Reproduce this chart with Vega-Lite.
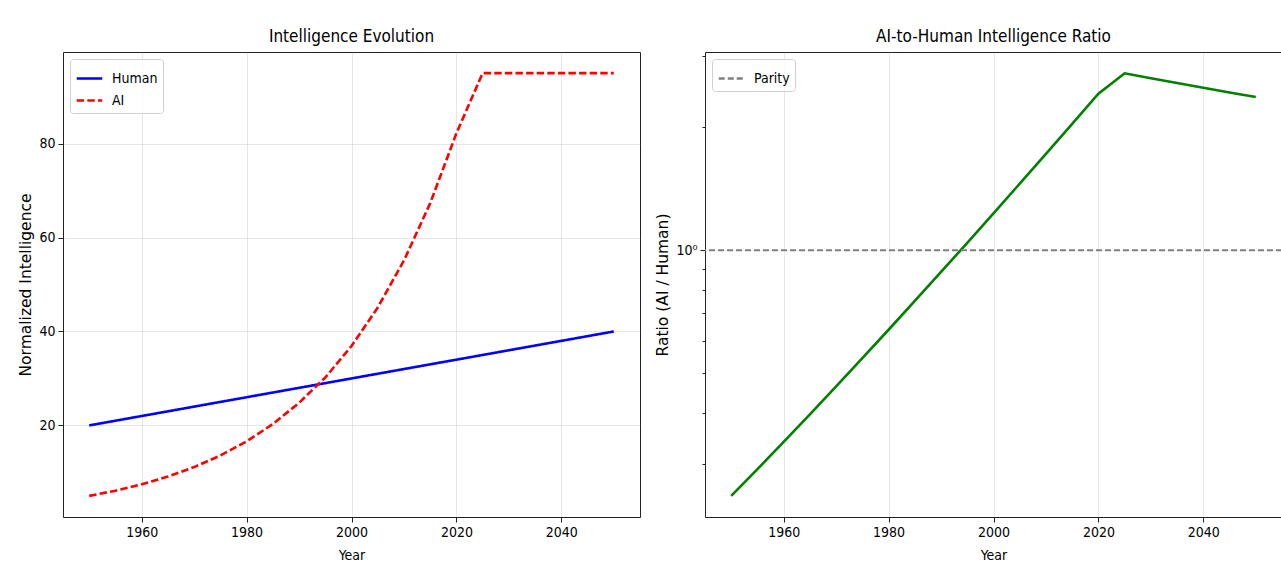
{
  "$schema": "https://vega.github.io/schema/vega-lite/v6.json",
  "background": "white",
  "padding": {"left": 18, "top": 27, "right": 0, "bottom": 0},
  "spacing": 14,
  "datasets": {
    "series": [
      {"year": 1950, "series": "Human", "value": 20},
      {"year": 1955, "series": "Human", "value": 21},
      {"year": 1960, "series": "Human", "value": 22},
      {"year": 1965, "series": "Human", "value": 23},
      {"year": 1970, "series": "Human", "value": 24},
      {"year": 1975, "series": "Human", "value": 25},
      {"year": 1980, "series": "Human", "value": 26},
      {"year": 1985, "series": "Human", "value": 27},
      {"year": 1990, "series": "Human", "value": 28},
      {"year": 1995, "series": "Human", "value": 29},
      {"year": 2000, "series": "Human", "value": 30},
      {"year": 2005, "series": "Human", "value": 31},
      {"year": 2010, "series": "Human", "value": 32},
      {"year": 2015, "series": "Human", "value": 33},
      {"year": 2020, "series": "Human", "value": 34},
      {"year": 2025, "series": "Human", "value": 35},
      {"year": 2030, "series": "Human", "value": 36},
      {"year": 2035, "series": "Human", "value": 37},
      {"year": 2040, "series": "Human", "value": 38},
      {"year": 2045, "series": "Human", "value": 39},
      {"year": 2050, "series": "Human", "value": 40},
      {"year": 1950, "series": "AI", "value": 5.0},
      {"year": 1955, "series": "AI", "value": 6.1},
      {"year": 1960, "series": "AI", "value": 7.46},
      {"year": 1965, "series": "AI", "value": 9.11},
      {"year": 1970, "series": "AI", "value": 11.13},
      {"year": 1975, "series": "AI", "value": 13.6},
      {"year": 1980, "series": "AI", "value": 16.6},
      {"year": 1985, "series": "AI", "value": 20.3},
      {"year": 1990, "series": "AI", "value": 24.8},
      {"year": 1995, "series": "AI", "value": 30.2},
      {"year": 2000, "series": "AI", "value": 36.9},
      {"year": 2005, "series": "AI", "value": 45.1},
      {"year": 2010, "series": "AI", "value": 55.1},
      {"year": 2015, "series": "AI", "value": 67.3},
      {"year": 2020, "series": "AI", "value": 82.2},
      {"year": 2025, "series": "AI", "value": 95},
      {"year": 2030, "series": "AI", "value": 95},
      {"year": 2035, "series": "AI", "value": 95},
      {"year": 2040, "series": "AI", "value": 95},
      {"year": 2045, "series": "AI", "value": 95},
      {"year": 2050, "series": "AI", "value": 95}
    ],
    "ratio": [
      {"year": 1950, "ratio": 0.25},
      {"year": 1955, "ratio": 0.2908},
      {"year": 1960, "ratio": 0.339},
      {"year": 1965, "ratio": 0.3961},
      {"year": 1970, "ratio": 0.4637},
      {"year": 1975, "ratio": 0.5437},
      {"year": 1980, "ratio": 0.6385},
      {"year": 1985, "ratio": 0.751},
      {"year": 1990, "ratio": 0.8845},
      {"year": 1995, "ratio": 1.043},
      {"year": 2000, "ratio": 1.2315},
      {"year": 2005, "ratio": 1.4557},
      {"year": 2010, "ratio": 1.7224},
      {"year": 2015, "ratio": 2.0399},
      {"year": 2020, "ratio": 2.4183},
      {"year": 2025, "ratio": 2.714},
      {"year": 2030, "ratio": 2.639},
      {"year": 2035, "ratio": 2.568},
      {"year": 2040, "ratio": 2.5},
      {"year": 2045, "ratio": 2.436},
      {"year": 2050, "ratio": 2.375}
    ],
    "parity": [{"label": "Parity"}]
  },
  "hconcat": [
    {
      "width": 577,
      "height": 465,
      "title": {"text": "Intelligence Evolution"},
      "data": {"name": "series"},
      "mark": {"type": "line", "strokeWidth": 2.6},
      "encoding": {
        "x": {"field": "year", "type": "quantitative", "scale": {"domain": [1945, 2055], "nice": false, "zero": false}, "axis": {"title": "Year", "values": [1960, 1980, 2000, 2020, 2040], "format": "d"}},
        "y": {"field": "value", "type": "quantitative", "scale": {"domain": [0.5, 99.5], "nice": false, "zero": false}, "axis": {"title": "Normalized Intelligence", "values": [20, 40, 60, 80]}},
        "color": {"field": "series", "type": "nominal", "scale": {"domain": ["Human", "AI"], "range": ["blue", "red"]},
          "legend": {"title": null, "orient": "top-left", "offset": 7}},
        "strokeDash": {"field": "series", "type": "nominal", "scale": {"domain": ["Human", "AI"], "range": [[1, 0], [7.4, 3.2]]},
          "legend": {"title": null, "orient": "top-left", "offset": 7}}
      }
    },
    {
      "width": 577,
      "height": 465,
      "title": {"text": "AI-to-Human Intelligence Ratio"},
      "layer": [
        {
          "data": {"name": "ratio"},
          "mark": {"type": "line", "color": "green", "strokeWidth": 2.6},
          "encoding": {
            "x": {"field": "year", "type": "quantitative", "scale": {"domain": [1945, 2055], "nice": false, "zero": false}, "axis": {"title": "Year", "values": [1960, 1980, 2000, 2020, 2040], "format": "d"}},
            "y": {"field": "ratio", "type": "quantitative", "scale": {"type": "log", "domain": [0.222, 3.06], "nice": false},
              "axis": {"title": "Ratio (AI / Human)", "values": [0.3, 0.4, 0.5, 0.6, 0.7, 0.8, 0.9, 1, 2, 3],
                "labelExpr": "datum.value == 1 ? '10⁰' : ''",
                "tickSize": {"condition": {"test": "datum.value == 1", "value": 5}, "value": 3},
                "gridOpacity": {"condition": {"test": "datum.value == 1", "value": 0.3}, "value": 0}}}
          }
        },
        {
          "data": {"name": "parity"},
          "mark": {"type": "rule", "strokeWidth": 2},
          "encoding": {
            "y": {"datum": 1},
            "color": {"field": "label", "type": "nominal", "scale": {"domain": ["Parity"], "range": ["gray"]},
              "legend": {"title": null, "orient": "top-left", "offset": 7}},
            "strokeDash": {"field": "label", "type": "nominal", "scale": {"domain": ["Parity"], "range": [[6, 3]]},
              "legend": {"title": null, "orient": "top-left", "offset": 7}}
          }
        }
      ]
    }
  ],
  "resolve": {
    "scale": {"color": "independent", "strokeDash": "independent"},
    "legend": {"color": "independent", "strokeDash": "independent"}
  },
  "config": {
    "font": "Liberation Sans Narrow, DejaVu Sans Condensed, DejaVu Sans",
    "view": {"stroke": "#222", "strokeWidth": 1},
    "axis": {
      "domain": false,
      "tickColor": "#222",
      "tickSize": 5,
      "labelFontSize": 14,
      "labelColor": "#000",
      "labelPadding": 3,
      "labelFont": "Liberation Sans Narrow, DejaVu Sans Condensed, DejaVu Sans",
      "titleFontSize": 15.5,
      "titleFontWeight": "normal",
      "titleColor": "#000",
      "titlePadding": 5,
      "gridColor": "#b0b0b0",
      "gridOpacity": 0.3
    },
    "axisX": {"titleFont": "Liberation Sans Narrow, DejaVu Sans Condensed, DejaVu Sans", "titleFontSize": 14, "titlePadding": 9},
    "axisY": {"titleFont": "DejaVu Sans"},
    "title": {"fontSize": 17, "fontWeight": "normal", "color": "#000", "offset": 6, "font": "Liberation Sans Narrow, DejaVu Sans Condensed, DejaVu Sans"},
    "legend": {
      "symbolType": "stroke",
      "symbolSize": 650,
      "symbolStrokeWidth": 2.6,
      "labelFontSize": 14,
      "labelFont": "Liberation Sans Narrow, DejaVu Sans Condensed, DejaVu Sans",
      "labelColor": "#000",
      "labelOffset": 8,
      "fillColor": "rgba(255,255,255,0.8)",
      "strokeColor": "#d0d0d0",
      "cornerRadius": 3,
      "padding": 5,
      "rowPadding": 0
    }
  }
}
